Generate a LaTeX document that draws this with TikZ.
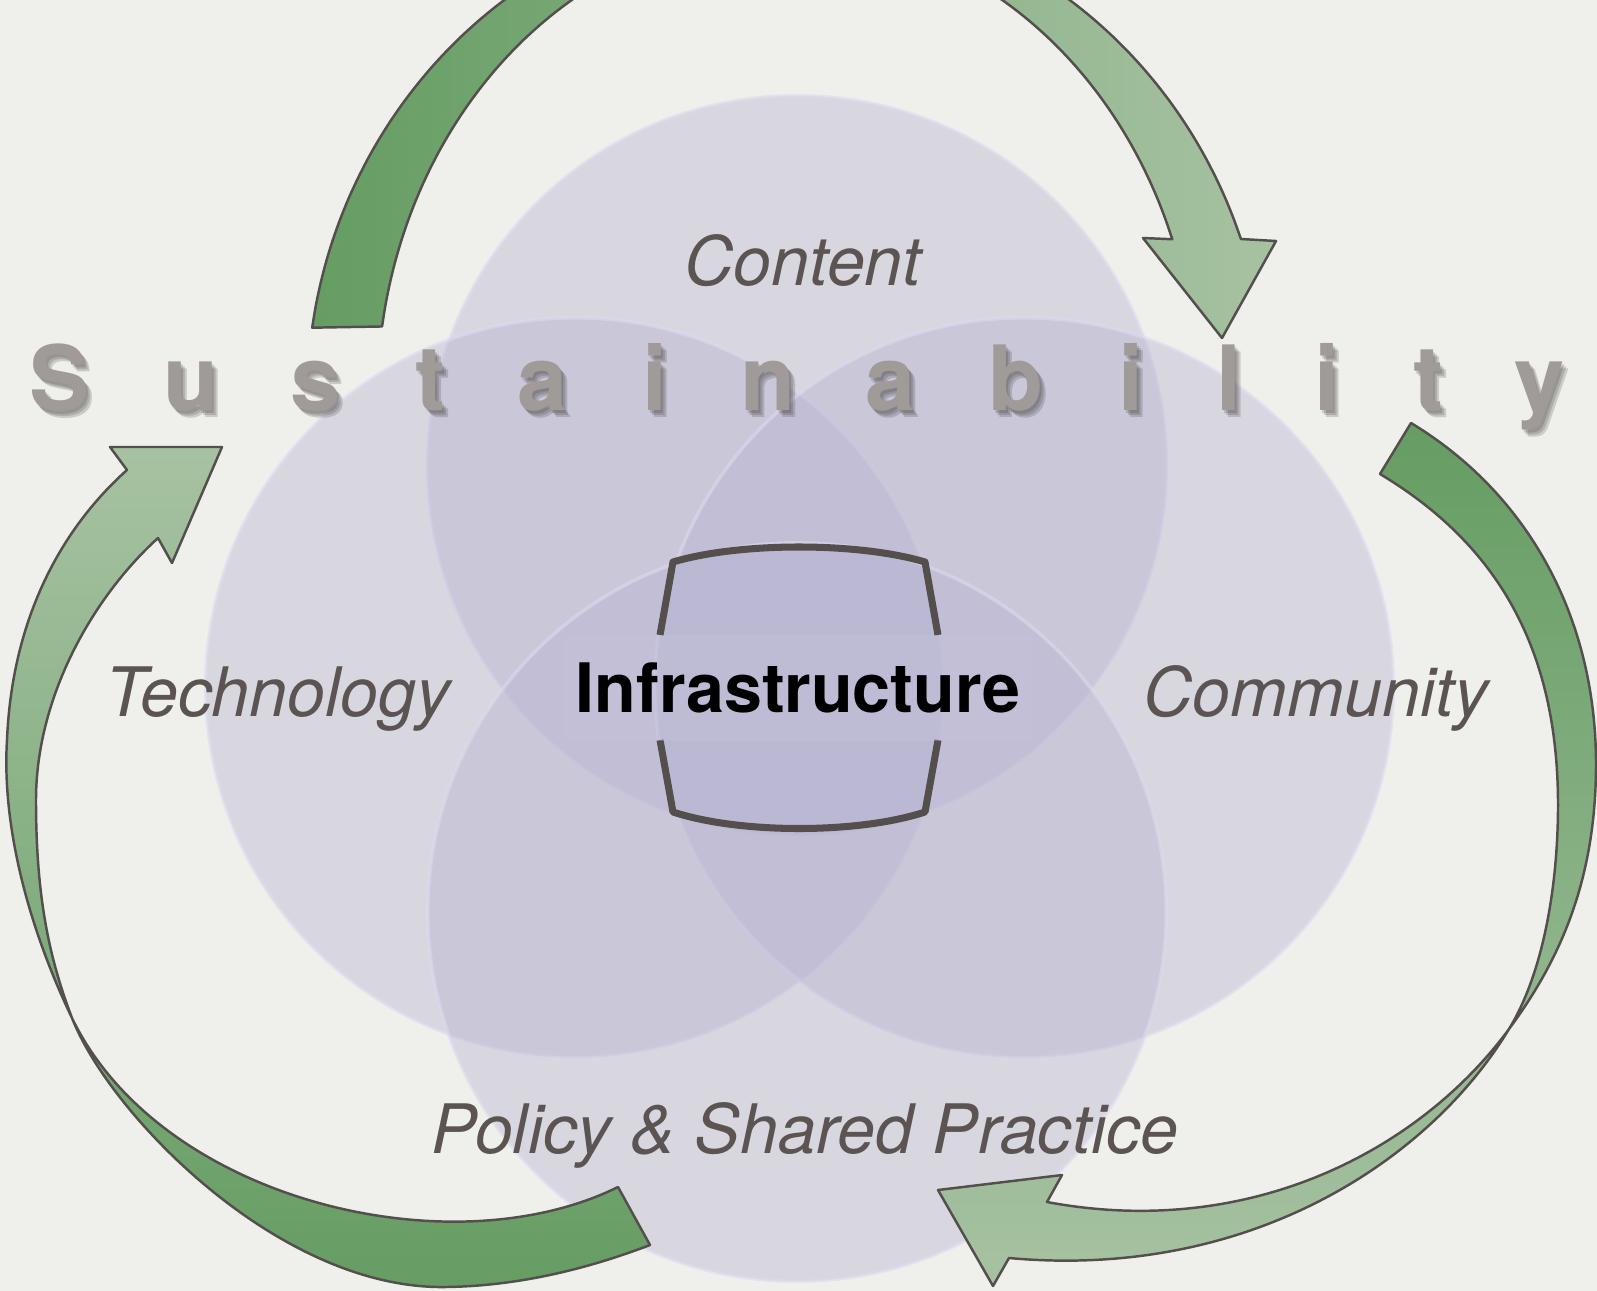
\documentclass[tikz,border=0pt]{standalone}
\usepackage{fontspec}
\setmainfont{TeX Gyre Heros}

\definecolor{bgpaper}{RGB}{239,240,235}
\definecolor{vennfill}{RGB}{180,176,208}
\definecolor{vennedge}{RGB}{222,217,238}
\definecolor{gdark}{RGB}{101,157,99}
\definecolor{gmid}{RGB}{118,167,113}
\definecolor{glight}{RGB}{167,194,162}
\definecolor{outline}{RGB}{84,78,76}
\definecolor{labelgray}{RGB}{92,84,82}
\definecolor{sustgray}{RGB}{160,155,152}
\definecolor{shadowgray}{RGB}{60,55,53}
\definecolor{infrafill}{RGB}{200,196,220}

\begin{document}
\begin{tikzpicture}[x=0.01cm, y=-0.01cm,
	venn/.style={fill=vennfill, fill opacity=.39, draw=vennedge, draw opacity=.6, line width=1pt},
	band/.style={draw=outline, line width=.7pt, line join=round},
	topic/.style={text=labelgray, anchor=base, font=\fontsize{19.4}{23}\selectfont\itshape},
	letter/.style={text=sustgray, anchor=base, inner sep=0pt, font=\fontsize{25.6}{30}\selectfont\bfseries},
	lettershade/.style={letter, text=shadowgray, text opacity=.2},
	bracket/.style={draw=outline, line width=2pt, line join=round}]

	\useasboundingbox (0,0) rectangle (1597,1291);
	\fill[bgpaper] (0,0) rectangle (1597,1291);
	\clip (0,0) rectangle (1597,1291);

	% the four circles
	\coordinate (ctop) at (797,465);
	\coordinate (cleft) at (575,687);
	\coordinate (cright) at (1024,687);
	\coordinate (cbot) at (797,912);
	\path[venn] (ctop) circle[radius=3.69cm];
	\path[venn] (cleft) circle[radius=3.69cm];
	\path[venn] (cright) circle[radius=3.69cm];
	\path[venn] (cbot) circle[radius=3.69cm];

	% arrow over the top
	\path[band, left color=gdark, right color=glight]
	plot[domain=171:20, variable=\t, samples=60, smooth] ({787+410*cos(\t)},{400-470*sin(\t)})
	-- (1143,238) -- (1222,338) -- (1276,241) -- (1241,239)
	-- plot[domain=19:171.6, variable=\t, samples=60, smooth] ({787+480*cos(\t)},{400-495*sin(\t)})
	-- cycle;

	% arrow on the right
	\coordinate (rtwist) at (1509,1029);
	\path[band, top color=gdark, middle color=gmid, bottom color=glight]
	(1411,423) .. controls (1530,495) and (1596,620) .. (1596,764)
	.. controls (1596,880) and (1560,960) .. (rtwist)
	.. controls (1430,1160) and (1250,1280) .. (1009,1258)
	-- (993,1286) -- (938,1190) -- (1062,1175) -- (1047,1202)
	.. controls (1250,1240) and (1420,1150) .. (rtwist)
	.. controls (1545,970) and (1558,880) .. (1558,805)
	.. controls (1558,640) and (1490,540) .. (1380,474)
	-- cycle;

	% arrow on the left
	\coordinate (ltwist) at (72,1018);
	\path[band, top color=glight, bottom color=gdark]
	(618,1187) .. controls (450,1270) and (160,1200) .. (ltwist)
	.. controls (25,920) and (2,820) .. (7,740)
	.. controls (12,620) and (60,530) .. (127,470)
	-- (110,447) -- (222,447) -- (172,563) -- (158,538)
	.. controls (90,600) and (36,700) .. (36,800)
	.. controls (36,900) and (50,960) .. (ltwist)
	.. controls (110,1115) and (280,1290) .. (446,1287)
	.. controls (520,1286) and (590,1268) .. (650,1245)
	-- cycle;

	% frame round the centre
	\draw[bracket] (660,635) -- (673,562) .. controls (740,542) and (858,542) .. (925,562) -- (938,635);
	\draw[bracket] (660,740) -- (673,812) .. controls (740,834) and (858,834) .. (925,812) -- (938,740);

	\node[fill=infrafill, fill opacity=.3, text opacity=1, minimum width=4.7cm, minimum height=1.05cm,
		font=\fontsize{19.4}{23}\selectfont\bfseries] (infra) at (798,688) {Infrastructure};

	\node[topic] (content) at (803,285) {Content};
	\node[topic] (technology) at (278,716) {Technology};
	\node[topic] (community) at (1316,716) {Community};
	\node[topic] (policy) at (805,1153) {Policy \& Shared Practice};

	% spaced letters with a soft shadow
	\foreach \ch/\cx [count=\i] in {S/60,u/191,s/316,t/430,a/543,i/655,n/768,a/891,b/1016,i/1131,l/1229,i/1327,t/1428,y/1540}{
		\foreach \dx/\dy in {2/3,4/5,6/7}
			\node[lettershade] (shade\i-\dx) at (\cx+\dx,410+\dy) {\ch};
		\node[letter] (sus\i) at (\cx,410) {\ch};
	}

\end{tikzpicture}
\end{document}
